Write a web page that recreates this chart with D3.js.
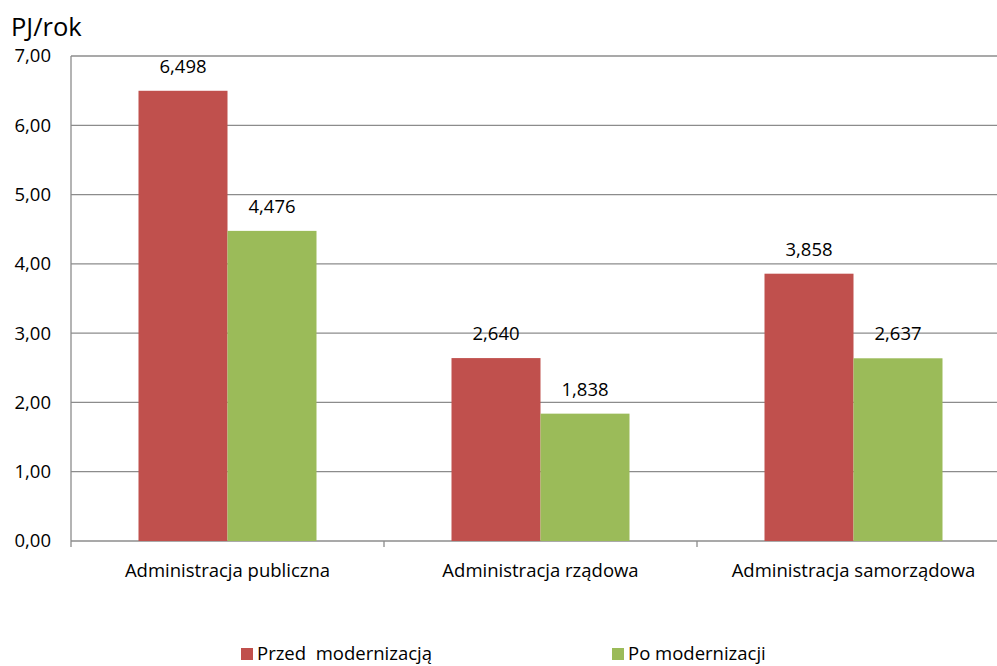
<!DOCTYPE html>
<html><head><meta charset="utf-8">
<script src="https://d3js.org/d3.v7.min.js"></script>
<style>body{margin:0;background:#fff}svg{display:block}text{font-family:"Open Sans","Noto Sans",sans-serif;fill:#000}</style>
</head><body>
<script>
const categories = ["Administracja publiczna","Administracja rządowa","Administracja samorządowa"];
const seriesNames = ["Przed  modernizacją","Po modernizacji"];
const przed = [6.498, 2.640, 3.858];
const po = [4.476, 1.838, 2.637];
const yTicks = [0,1,2,3,4,5,6,7];
const colors = ["#c0504d","#9bbb59"];
const unit = "PJ/rok";

(function(){
const W=997,H=666;
const svg=d3.select("body").append("svg").attr("width",W).attr("height",H);
const pL=71, pR=1010, pT=56, pB=541;
const fs="18.5px";
const x=d3.scaleBand().domain(categories).range([pL,pR]);
const y=d3.scaleLinear().domain([0,7]).range([pB,pT]);
const bw = x.step()*89/313;
const fmt = v=>v.toFixed(3).replace(".",",");
const fmt2 = v=>v.toFixed(2).replace(".",",");

svg.append("g").selectAll("line").data(yTicks).join("line")
 .attr("x1",pL).attr("x2",pR).attr("y1",d=>y(d)).attr("y2",d=>y(d))
 .attr("stroke","#8c8c8c").attr("stroke-width",1.3);
svg.append("line").attr("x1",pL).attr("x2",pL).attr("y1",pT).attr("y2",pB).attr("stroke","#8c8c8c").attr("stroke-width",1.3);
svg.append("g").selectAll("text").data(yTicks).join("text")
 .attr("x",51).attr("y",d=>y(d)).attr("dy","0.35em").attr("text-anchor","end")
 .style("font-size",fs).text(fmt2);
const bounds=[...categories.map(c=>x(c)), pR];
svg.append("g").selectAll("line").data(bounds).join("line")
 .attr("x1",d=>d).attr("x2",d=>d).attr("y1",pB).attr("y2",pB+6).attr("stroke","#8c8c8c").attr("stroke-width",1.3);

const series=[przed,po];
series.forEach((vals,si)=>{
  const g=svg.append("g");
  g.selectAll("rect").data(categories).join("rect")
   .attr("x",c=>x(c)+x.bandwidth()/2 - bw + si*bw)
   .attr("width",bw)
   .attr("y",(c,i)=>y(vals[i])).attr("height",(c,i)=>pB-y(vals[i]))
   .attr("fill",colors[si]);
  g.selectAll("text").data(categories).join("text")
   .attr("x",c=>x(c)+x.bandwidth()/2 - bw/2 + si*bw)
   .attr("y",(c,i)=>y(vals[i])-18).attr("text-anchor","middle")
   .style("font-size",fs).text((c,i)=>fmt(vals[i]));
});
svg.append("g").selectAll("text").data(categories).join("text")
 .attr("x",c=>x(c)+x.bandwidth()/2).attr("y",577).attr("text-anchor","middle")
 .style("font-size",fs).text(d=>d);
svg.append("text").attr("x",11).attr("y",36).style("font-size","25.5px").text(unit);
const lx=[241,612];
seriesNames.forEach((n,i)=>{
  svg.append("rect").attr("x",lx[i]).attr("y",648).attr("width",12).attr("height",12).attr("fill",colors[i]);
  svg.append("text").attr("x",lx[i]+16).attr("y",660).style("font-size",fs).attr("xml:space","preserve").style("white-space","pre").text(n);
});
})();
</script>
</body></html>
